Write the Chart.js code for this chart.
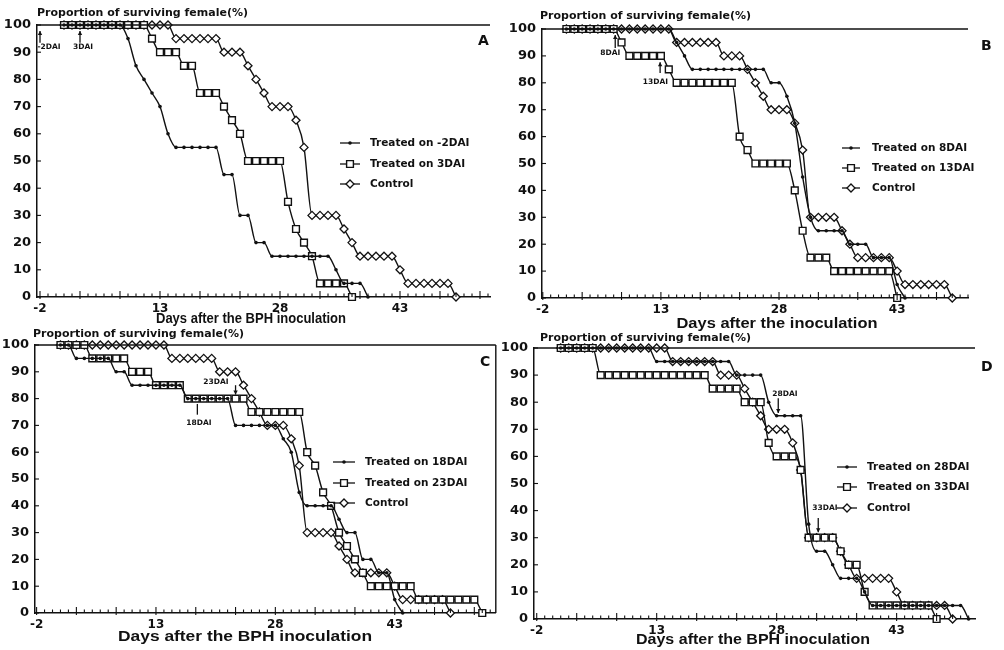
<!DOCTYPE html>
<html>
<head>
<meta charset="utf-8">
<script src="https://cdn.jsdelivr.net/npm/chart.js@4.4.1/dist/chart.umd.min.js"></script>
<style>
  body { margin: 0; background: #fff; width: 1004px; height: 650px; position: relative; overflow: hidden; }
  .panel { position: absolute; width: 502px; }
  .top { height: 340px; }
  .bottom { height: 325px; }
</style>
</head>
<body>
<div class="panel top" style="left:0;top:0"><canvas id="chartA"></canvas></div>
<div class="panel top" style="left:502px;top:0"><canvas id="chartB"></canvas></div>
<div class="panel bottom" style="left:0;top:325px"><canvas id="chartC"></canvas></div>
<div class="panel bottom" style="left:502px;top:325px"><canvas id="chartD"></canvas></div>
<script>
const ink = "#111";
const fontFamily = "'DejaVu Sans', 'Liberation Sans', sans-serif";
const titleText = "Proportion of surviving female(%)";

// every series starts on day 1, one value per day
const firstDay = 1;
const xTickLabels = [-2, 13, 28, 43];
const yTickValues = [0, 10, 20, 30, 40, 50, 60, 70, 80, 90, 100];

// same control group in all four panels
const control = [100, 100, 100, 100, 100, 100, 100, 100, 100, 100, 100, 100, 100, 100,
    95, 95, 95, 95, 95, 95, 90, 90, 90, 85, 80, 75, 70, 70, 70, 65, 55,
    30, 30, 30, 30, 25, 20, 15, 15, 15, 15, 15, 10, 5, 5, 5, 5, 5, 5, 0];

// panel A
const treatedMinus2 = [100, 100, 100, 100, 100, 100, 100, 100, 95, 85, 80, 75, 70, 60,
    55, 55, 55, 55, 55, 55, 45, 45, 30, 30, 20, 20,
    15, 15, 15, 15, 15, 15, 15, 15, 10, 5, 5, 5, 0];
const treated3 = [100, 100, 100, 100, 100, 100, 100, 100, 100, 100, 100, 95, 90, 90, 90,
    85, 85, 75, 75, 75, 70, 65, 60, 50, 50, 50, 50, 50, 35, 25, 20, 15, 5, 5, 5, 5, 0];

// panel B
const treated8 = [100, 100, 100, 100, 100, 100, 100, 100, 100, 100, 100, 100, 100, 100,
    95, 90, 85, 85, 85, 85, 85, 85, 85, 85, 85, 85, 80, 80, 75, 65, 45, 30,
    25, 25, 25, 25, 20, 20, 20, 15, 15, 15, 5, 0];
const treated13 = [100, 100, 100, 100, 100, 100, 100, 95, 90, 90, 90, 90, 90, 85,
    80, 80, 80, 80, 80, 80, 80, 80, 60, 55, 50, 50, 50, 50, 50, 40, 25,
    15, 15, 15, 10, 10, 10, 10, 10, 10, 10, 10, 0];

// panel C
const treated18 = [100, 100, 95, 95, 95, 95, 95, 90, 90, 85, 85, 85, 85, 85, 85, 85,
    80, 80, 80, 80, 80, 80, 70, 70, 70, 70, 70, 70, 65, 60, 45, 40, 40, 40, 40,
    35, 30, 30, 20, 20, 15, 15, 5, 0];
const treated23 = [100, 100, 100, 100, 95, 95, 95, 95, 95, 90, 90, 90, 85, 85, 85, 85,
    80, 80, 80, 80, 80, 80, 80, 80, 75, 75, 75, 75, 75, 75, 75,
    60, 55, 45, 40, 30, 25, 20, 15, 10, 10, 10, 10, 10, 10,
    5, 5, 5, 5, 5, 5, 5, 5, 0];

// panel D
const treated28 = [100, 100, 100, 100, 100, 100, 100, 100, 100, 100, 100, 100,
    95, 95, 95, 95, 95, 95, 95, 95, 95, 95, 90, 90, 90, 90, 80, 75, 75, 75, 75,
    35, 25, 25, 20, 15, 15, 15, 10, 5, 5, 5, 5, 5, 5, 5, 5, 5, 5, 5, 5, 0];
const treated33 = [100, 100, 100, 100, 100, 90, 90, 90, 90, 90, 90, 90, 90, 90, 90, 90, 90, 90, 90,
    85, 85, 85, 85, 80, 80, 80, 65, 60, 60, 60, 55, 30, 30, 30, 30, 25, 20, 20, 10,
    5, 5, 5, 5, 5, 5, 5, 5, 0];

const dotStyle = { pointStyle: "circle", pointRadius: 1.8, pointBorderWidth: 0, pointBackgroundColor: ink };
const squareStyle = { pointStyle: "rect", pointRadius: 4.8, pointBorderWidth: 1.4, pointBackgroundColor: "#fff" };
const diamondStyle = { pointStyle: "rectRot", pointRadius: 4, pointBorderWidth: 1.3, pointBackgroundColor: "#fff" };

function series(label, values, style) {
    return Object.assign({
        label: label,
        data: values.map((v, i) => ({ x: firstDay + i, y: v })),
        borderColor: ink,
        pointBorderColor: ink,
        borderWidth: 1.4,
        cubicInterpolationMode: "monotone",
        clip: false
    }, style);
}

function drawMarker(ctx, style, x, y) {
    const r = style.pointRadius;
    ctx.beginPath();
    if (style.pointStyle === "circle") {
        ctx.arc(x, y, r, 0, Math.PI * 2);
    } else if (style.pointStyle === "rect") {
        const s = r / Math.SQRT2;
        ctx.rect(x - s, y - s, 2 * s, 2 * s);
    } else {
        ctx.moveTo(x, y - r); ctx.lineTo(x + r, y); ctx.lineTo(x, y + r); ctx.lineTo(x - r, y); ctx.closePath();
    }
    ctx.fillStyle = style.pointBackgroundColor;
    ctx.fill();
    if (style.pointBorderWidth) { ctx.lineWidth = style.pointBorderWidth; ctx.strokeStyle = ink; ctx.stroke(); }
}

function line(ctx, x1, y1, x2, y2) {
    ctx.beginPath(); ctx.moveTo(x1, y1); ctx.lineTo(x2, y2); ctx.stroke();
}

const decor = {
    id: "decor",
    afterDraw(chart, args, o) {
        const ctx = chart.ctx, a = chart.chartArea;
        const xs = chart.scales.x, ys = chart.scales.y;
        ctx.save();
        ctx.strokeStyle = ink;
        ctx.fillStyle = ink;
        ctx.lineWidth = 1.4;
        line(ctx, a.left, a.top, a.right, a.top);
        if (o.boxRight) line(ctx, a.right, a.top, a.right, a.bottom);

        // inward tick marks, daily minor and 5-day major
        ctx.lineWidth = 1.1;
        for (let d = Math.ceil(xs.min); d <= xs.max; d++) {
            const px = xs.getPixelForValue(d);
            const major = ((d + 2) % 5 + 5) % 5 === 0;
            line(ctx, px, a.bottom + (major ? 2 : 0), px, a.bottom - (major ? 6 : 3.5));
        }
        yTickValues.forEach(v => {
            const py = ys.getPixelForValue(v);
            line(ctx, a.left - 1, py, a.left + 4, py);
        });

        // panel title and letter
        ctx.textBaseline = "middle";
        ctx.textAlign = "left";
        ctx.font = "bold 11px " + fontFamily;
        ctx.fillText(titleText, o.titleX, o.titleY);
        ctx.font = "bold 14px " + fontFamily;
        ctx.fillText(o.letter, o.letterX, o.letterY);

        // x axis title squeezed to the width seen in the figure
        ctx.font = "bold 15px 'Liberation Sans', Arial, sans-serif";
        const w = ctx.measureText(o.xTitle).width;
        ctx.save();
        ctx.translate(o.xTitleX, o.xTitleY);
        ctx.scale(o.xTitleW / w, 1);
        ctx.textAlign = "center";
        ctx.fillText(o.xTitle, 0, 0);
        ctx.restore();

        // treatment arrows
        ctx.font = "bold 7.5px " + fontFamily;
        o.notes.forEach(n => {
            const px = xs.getPixelForValue(n.day);
            const y1 = ys.getPixelForValue(n.from), y2 = ys.getPixelForValue(n.to);
            ctx.lineWidth = 1.3;
            line(ctx, px, y1, px, y2);
            if (n.head) {
                const dir = y2 < y1 ? 1 : -1;
                ctx.beginPath();
                ctx.moveTo(px, y2);
                ctx.lineTo(px - 2.2, y2 + dir * 4);
                ctx.lineTo(px + 2.2, y2 + dir * 4);
                ctx.closePath();
                ctx.fill();
            }
            ctx.textAlign = n.align;
            ctx.fillText(n.text, px + n.dx, ys.getPixelForValue(n.textY));
        });

        // legend inside the plot
        chart.data.datasets.forEach((ds, i) => {
            const ly = o.legendRows[i];
            ctx.lineWidth = 1.3;
            line(ctx, o.legendX0, ly, o.legendX1, ly);
            drawMarker(ctx, ds, (o.legendX0 + o.legendX1) / 2, ly);
            ctx.fillStyle = ink;
            ctx.font = "bold 10.5px " + fontFamily;
            ctx.textAlign = "left";
            ctx.fillText(ds.label, o.legendText, ly);
        });
        ctx.restore();
    }
};

function makePanel(id, datasets, g, o) {
    const xHeight = 20;
    return new Chart(id, {
        type: "line",
        data: { datasets: datasets },
        options: {
            responsive: true,
            maintainAspectRatio: false,
            animation: false,
            layout: { padding: { left: 0, top: g.top, right: 502 - g.right, bottom: g.h - g.bottom - xHeight } },
            plugins: { legend: { display: false }, tooltip: { enabled: false }, decor: o },
            scales: {
                x: {
                    type: "linear",
                    min: g.xmin,
                    max: g.xmax,
                    afterBuildTicks: s => { s.ticks = xTickLabels.map(v => ({ value: v })); },
                    afterFit: s => { s.height = xHeight; },
                    grid: { display: false, drawTicks: false },
                    border: { display: true, color: ink, width: 1.5 },
                    ticks: { color: ink, padding: 5, maxRotation: 0, font: { family: fontFamily, size: 12, weight: "bold" } }
                },
                y: {
                    min: 0,
                    max: 100,
                    afterBuildTicks: s => { s.ticks = yTickValues.map(v => ({ value: v })); },
                    afterFit: s => { s.width = g.left; },
                    grid: { display: false, drawTicks: false },
                    border: { display: true, color: ink, width: 1.5 },
                    ticks: { color: ink, padding: 6, font: { family: fontFamily, size: 13, weight: "bold" } }
                }
            }
        },
        plugins: [decor]
    });
}

makePanel("chartA", [
    series("Treated on -2DAI", treatedMinus2, dotStyle),
    series("Treated on 3DAI", treated3, squareStyle),
    series("Control", control, diamondStyle)
], { h: 340, left: 37, right: 490, top: 25, bottom: 297, xmin: -2.375, xmax: 54.25 }, {
    titleX: 37, titleY: 13, letter: "A", letterX: 478, letterY: 41,
    xTitle: "Days after the BPH inoculation", xTitleX: 251, xTitleY: 319, xTitleW: 190,
    legendX0: 340, legendX1: 360, legendText: 370, legendRows: [143, 164, 184],
    notes: [
        { text: "-2DAI", day: -2, from: 93.5, to: 97.8, head: true, textY: 92, dx: -2.5, align: "left" },
        { text: "3DAI", day: 3, from: 93.5, to: 97.8, head: true, textY: 92, dx: -7, align: "left" }
    ]
});

makePanel("chartB", [
    series("Treated on 8DAI", treated8, dotStyle),
    series("Treated on 13DAI", treated13, squareStyle),
    series("Control", control, diamondStyle)
], { h: 340, left: 40, right: 466, top: 29, bottom: 298, xmin: -2.1, xmax: 52 }, {
    titleX: 38, titleY: 16, letter: "B", letterX: 479, letterY: 46,
    xTitle: "Days after the inoculation", xTitleX: 275, xTitleY: 324, xTitleW: 201,
    legendX0: 340, legendX1: 358, legendText: 370, legendRows: [148, 168, 188],
    notes: [
        { text: "8DAI", day: 7.2, from: 92.9, to: 97.8, head: true, textY: 91, dx: 5, align: "right" },
        { text: "13DAI", day: 12.9, from: 83.6, to: 87.6, head: true, textY: 80.3, dx: 8, align: "right" }
    ]
});

makePanel("chartC", [
    series("Treated on 18DAI", treated18, dotStyle),
    series("Treated on 23DAI", treated23, squareStyle),
    series("Control", control, diamondStyle)
], { h: 325, left: 35, right: 498, top: 20, bottom: 288, xmin: -2.2, xmax: 55.7 }, {
    boxRight: true,
    titleX: 33, titleY: 9, letter: "C", letterX: 480, letterY: 37,
    xTitle: "Days after the BPH inoculation", xTitleX: 245, xTitleY: 312, xTitleW: 254,
    legendX0: 333, legendX1: 355, legendText: 365, legendRows: [137, 158, 178],
    notes: [
        { text: "18DAI", day: 18.2, from: 74, to: 78, head: false, textY: 70.9, dx: 1.5, align: "center" },
        { text: "23DAI", day: 23, from: 85, to: 81.5, head: true, textY: 86.3, dx: -7, align: "right" }
    ]
});

makePanel("chartD", [
    series("Treated on 28DAI", treated28, dotStyle),
    series("Treated on 33DAI", treated33, squareStyle),
    series("Control", control, diamondStyle)
], { h: 325, left: 32, right: 473, top: 23, bottom: 294, xmin: -2.34, xmax: 52.8 }, {
    titleX: 38, titleY: 13, letter: "D", letterX: 479, letterY: 42,
    xTitle: "Days after the BPH inoculation", xTitleX: 251, xTitleY: 315, xTitleW: 234,
    legendX0: 335, legendX1: 355, legendText: 365, legendRows: [142, 162, 183],
    notes: [
        { text: "28DAI", day: 28.2, from: 81.5, to: 76, head: true, textY: 83, dx: -6, align: "left" },
        { text: "33DAI", day: 33.2, from: 37.3, to: 32, head: true, textY: 41, dx: -6, align: "left" }
    ]
});
</script>
</body>
</html>
